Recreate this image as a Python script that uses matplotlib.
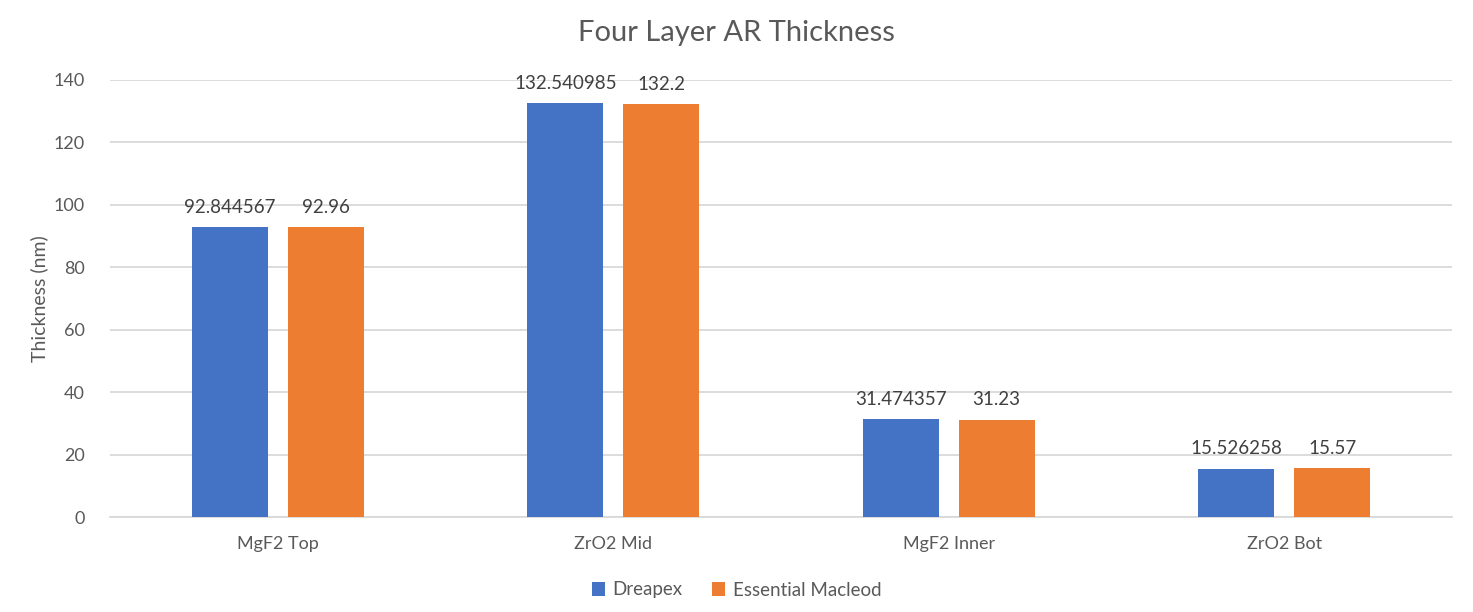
import matplotlib
matplotlib.use("Agg")
import matplotlib.pyplot as plt
import numpy as np

categories = ["MgF2 Top", "ZrO2 Mid", "MgF2 Inner", "ZrO2 Bot"]
dreapex = [92.844567, 132.540985, 31.474357, 15.526258]
macleod = [92.96, 132.2, 31.23, 15.57]
dreapex_labels = ["92.844567", "132.540985", "31.474357", "15.526258"]
macleod_labels = ["92.96", "132.2", "31.23", "15.57"]
series_names = ["Dreapex", "Essential Macleod"]
yticks = [0, 20, 40, 60, 80, 100, 120, 140]

plt.rcParams['font.family'] = ['Lato', 'DejaVu Sans']
gray = "#595959"
blue = "#4472C4"
orange = "#ED7D31"

W, H = 1473, 612
fig = plt.figure(figsize=(W/100, H/100), dpi=100)
ax = fig.add_axes([110/W, (H-517)/H, (1452-110)/W, (517-80)/H])

x = np.arange(len(categories))
bw = 76/336
off = 48/336
b1 = ax.bar(x - off, dreapex, bw, color=blue, label=series_names[0], zorder=3)
b2 = ax.bar(x + off, macleod, bw, color=orange, label=series_names[1], zorder=3)
ax.bar_label(b1, labels=dreapex_labels, padding=8, fontsize=13.5, color="#404040")
ax.bar_label(b2, labels=macleod_labels, padding=8, fontsize=13.5, color="#404040")

ax.set_xlim(-0.5, len(categories) - 0.5)
ax.set_ylim(0, 140)
ax.set_yticks(yticks)
ax.set_xticks(x)
ax.set_xticklabels(categories)
ax.tick_params(axis='both', length=0, labelsize=13, labelcolor=gray)
ax.tick_params(axis='x', pad=14)
ax.tick_params(axis='y', pad=18)
ax.grid(axis='y', color="#D9D9D9", linewidth=1.3, zorder=0)
for s in ["top", "right", "left"]:
    ax.spines[s].set_visible(False)
ax.spines["bottom"].set_color("#D9D9D9")
ax.spines["bottom"].set_linewidth(1.3)

ax.set_ylabel("Thickness (nm)", fontsize=14, color=gray, labelpad=4)
fig.text(0.5, 1 - 33/H, "Four Layer AR Thickness", ha="center", va="center",
         fontsize=21, color=gray)

fig.legend(loc="center", bbox_to_anchor=(0.5, 1 - 590/H), ncol=2, frameon=False,
           fontsize=13.5, labelcolor=gray, handlelength=0.7, handleheight=0.7,
           columnspacing=1.6, handletextpad=0.4)

fig.savefig("out.png", dpi=100)
